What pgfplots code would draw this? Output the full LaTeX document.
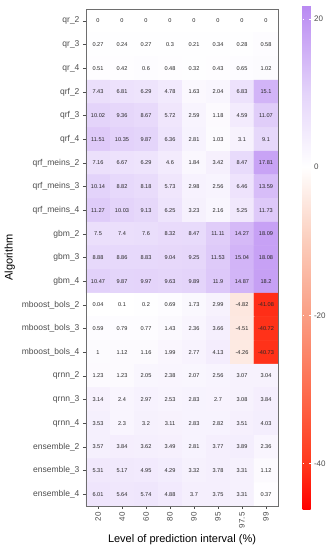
\documentclass[border=0pt]{standalone}
\usepackage{fontspec}
\setmainfont{Liberation Sans}
\usepackage{pgfplots}
\pgfplotsset{compat=1.18}
\usepackage{pgfplotstable}
\definecolor{tickgrey}{RGB}{77,77,77}
\definecolor{framegrey}{RGB}{110,110,110}
\pgfplotsset{colormap={rwp}{rgb255(0pt)=(255,0,0); rgb255(6.3pt)=(255,56,28); rgb255(16.3pt)=(253,110,80); rgb255(26.3pt)=(250,158,132); rgb255(36.3pt)=(251,205,188); rgb255(46.3pt)=(255,255,255); rgb255(56.3pt)=(228,212,250); rgb255(68.2pt)=(185,137,242)}}
% x = interval level index, y = 20 - row index (qr_2 at top), v = value
\pgfplotstableread{
x y v
0 20 0
1 20 0
2 20 0
3 20 0
4 20 0
5 20 0
6 20 0
7 20 0
0 19 0.27
1 19 0.24
2 19 0.27
3 19 0.3
4 19 0.21
5 19 0.34
6 19 0.28
7 19 0.58
0 18 0.51
1 18 0.42
2 18 0.6
3 18 0.48
4 18 0.32
5 18 0.43
6 18 0.65
7 18 1.02
0 17 7.43
1 17 6.81
2 17 6.29
3 17 4.78
4 17 1.63
5 17 2.04
6 17 6.83
7 17 15.1
0 16 10.02
1 16 9.36
2 16 8.67
3 16 5.72
4 16 2.59
5 16 1.18
6 16 4.59
7 16 11.07
0 15 11.51
1 15 10.35
2 15 9.87
3 15 6.36
4 15 2.81
5 15 1.03
6 15 3.1
7 15 9.1
0 14 7.16
1 14 6.67
2 14 6.29
3 14 4.6
4 14 1.84
5 14 3.42
6 14 8.47
7 14 17.81
0 13 10.14
1 13 8.82
2 13 8.18
3 13 5.73
4 13 2.98
5 13 2.56
6 13 6.46
7 13 13.59
0 12 11.27
1 12 10.03
2 12 9.13
3 12 6.25
4 12 3.23
5 12 2.16
6 12 5.25
7 12 11.73
0 11 7.5
1 11 7.4
2 11 7.6
3 11 8.32
4 11 8.47
5 11 11.11
6 11 14.27
7 11 18.09
0 10 8.88
1 10 8.86
2 10 8.83
3 10 9.04
4 10 9.25
5 10 11.53
6 10 15.04
7 10 18.08
0 9 10.47
1 9 9.87
2 9 9.97
3 9 9.63
4 9 9.89
5 9 11.9
6 9 14.87
7 9 18.2
0 8 0.04
1 8 0.1
2 8 0.2
3 8 0.69
4 8 1.73
5 8 2.99
6 8 -4.82
7 8 -41.08
0 7 0.59
1 7 0.79
2 7 0.77
3 7 1.43
4 7 2.36
5 7 3.66
6 7 -4.51
7 7 -40.72
0 6 1
1 6 1.12
2 6 1.16
3 6 1.99
4 6 2.77
5 6 4.13
6 6 -4.26
7 6 -40.73
0 5 1.23
1 5 1.23
2 5 2.05
3 5 2.38
4 5 2.07
5 5 2.56
6 5 3.07
7 5 3.04
0 4 3.14
1 4 2.4
2 4 2.97
3 4 2.53
4 4 2.83
5 4 2.7
6 4 3.08
7 4 3.84
0 3 3.53
1 3 2.3
2 3 3.2
3 3 3.11
4 3 2.83
5 3 2.82
6 3 3.51
7 3 4.03
0 2 3.57
1 2 3.84
2 2 3.62
3 2 3.49
4 2 2.81
5 2 3.77
6 2 3.89
7 2 2.36
0 1 5.31
1 1 5.17
2 1 4.95
3 1 4.29
4 1 3.32
5 1 3.78
6 1 3.31
7 1 1.12
0 0 6.01
1 0 5.64
2 0 5.74
3 0 4.88
4 0 3.7
5 0 3.75
6 0 3.31
7 0 0.37
}\heat
\begin{document}
\begin{tikzpicture}
\begin{axis}[
  scale only axis, width=192pt, height=497pt,
  axis on top,
  xmin=-0.5, xmax=7.5, ymin=-0.5, ymax=20.5,
  xtick={0,...,7}, xticklabels={20,40,60,80,90,95,97.5,99},
  ytick={0,...,20},
  yticklabels={ensemble\_4,ensemble\_3,ensemble\_2,qrnn\_4,qrnn\_3,qrnn\_2,mboost\_bols\_4,mboost\_bols\_3,mboost\_bols\_2,gbm\_4,gbm\_3,gbm\_2,qrf\_meins\_4,qrf\_meins\_3,qrf\_meins\_2,qrf\_4,qrf\_3,qrf\_2,qr\_4,qr\_3,qr\_2},
  xticklabel style={rotate=90, anchor=east, font=\fontsize{8}{9}\selectfont, text=tickgrey},
  yticklabel style={font=\fontsize{8.5}{10}\selectfont, text=tickgrey},
  tick align=outside, xtick pos=bottom, ytick pos=left,
  major tick length=3pt,
  tick style={draw=tickgrey, line width=0.5pt},
  axis line style={draw=framegrey, line width=0.6pt},
  xlabel={Level of prediction interval (\%)},
  ylabel={Algorithm},
  label style={font=\fontsize{11}{13}\selectfont},
  colormap name=rwp,
  point meta min=-46.3, point meta max=21.9,
  colorbar,
  colorbar style={
    width=8pt, height=505pt,
    at={(parent axis.north east)}, anchor=north west, xshift=16pt, yshift=4pt,
    ytick={-40,-20,0,20},
    yticklabel style={font=\fontsize{8}{9}\selectfont, text=tickgrey, anchor=west, align=left,
      /pgf/number format/assume math mode=true},
    axis line style={draw=none},
    tick style={draw=white, line width=0.6pt},
    major tick length=1.8pt, tick align=inside,
  },
  /pgf/number format/fixed,
  /pgf/number format/precision=2,
  /pgf/number format/assume math mode=true,
]
\addplot[matrix plot*, mesh/cols=8, point meta=explicit,
  nodes near coords, nodes near coords align={center},
  every node near coord/.append style={font=\fontsize{5.6}{6.5}\selectfont, text=black!85, inner sep=0pt}]
  table[x=x, y=y, meta=v] {\heat};
\end{axis}
\path (current axis.south west) ++(-86pt,-44pt) rectangle ++(328pt,550pt);
\end{tikzpicture}
\end{document}
